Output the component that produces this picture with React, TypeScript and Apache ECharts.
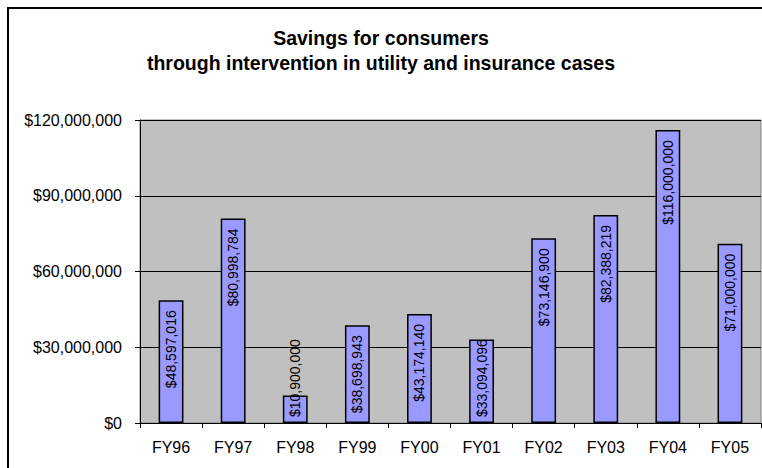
import React, { useEffect, useRef } from "react";
import * as echarts from "echarts";

const categories = ["FY96", "FY97", "FY98", "FY99", "FY00", "FY01", "FY02", "FY03", "FY04", "FY05"];
const savings = [48597016, 80998784, 10900000, 38698943, 43174140, 33094096, 73146900, 82388219, 116000000, 71000000];
const bottomLabelCats = ["FY98", "FY01"];
const titleLines = ["Savings for consumers", "through intervention in utility and insurance cases"];

const money = (v: number) => "$" + Math.round(v).toLocaleString("en-US");
const FONT = "'Liberation Sans', Arial, sans-serif";

export default function App() {
  const ref = useRef<HTMLDivElement>(null);
  useEffect(() => {
    if (!ref.current) return;
    const chart = echarts.init(ref.current, null, { renderer: "svg" });
    const data = savings.map((v, i) => {
      const bottom = bottomLabelCats.includes(categories[i]);
      return {
        value: v,
        label: bottom
          ? { position: "insideBottom", distance: 6, align: "left" }
          : { position: "insideTop", distance: 10, align: "right" },
      };
    });
    chart.setOption({
      animation: false,
      backgroundColor: "#ffffff",
      title: {
        text: titleLines.join("\n"),
        left: "center",
        top: 20,
        textStyle: { fontFamily: FONT, fontSize: 19.5, fontWeight: "bold", color: "#000", lineHeight: 25 },
      },
      graphic: [
        {
          type: "rect",
          shape: { x: 8, y: 8, width: 800, height: 500 },
          style: { fill: "none", stroke: "#000", lineWidth: 2 },
          silent: true,
        },
      ],
      grid: {
        left: 140,
        top: 120,
        right: 1,
        bottom: 45,
        show: true,
        backgroundColor: "#C0C0C0",
        borderColor: "#808080",
        borderWidth: 1,
      },
      xAxis: {
        type: "category",
        data: categories,
        axisLine: { lineStyle: { color: "#000", width: 1 } },
        axisTick: { show: true, length: 5, alignWithLabel: false, lineStyle: { color: "#000" } },
        axisLabel: { fontFamily: FONT, fontSize: 16, color: "#000", margin: 16, interval: 0 },
      },
      yAxis: {
        type: "value",
        min: 0,
        max: 120000000,
        interval: 30000000,
        axisLine: { show: true, lineStyle: { color: "#000", width: 1 } },
        axisTick: { show: true, length: 5, lineStyle: { color: "#000" } },
        axisLabel: { fontFamily: FONT, fontSize: 16, color: "#000", margin: 18, formatter: (v: number) => money(v) },
        splitLine: { show: true, lineStyle: { color: "#000", width: 1 } },
      },
      series: [
        {
          type: "bar",
          data,
          barWidth: "40%",
          itemStyle: { color: "#9999FF", borderColor: "#000", borderWidth: 1.5 },
          label: {
            show: true,
            rotate: 90,
            verticalAlign: "middle",
            fontFamily: FONT,
            fontSize: 14,
            color: "#000",
            formatter: (p: any) => money(p.value),
          },
        },
      ],
    });
    return () => chart.dispose();
  }, []);
  return <div ref={ref} style={{ position: "fixed", left: 0, top: 0, width: 762, height: 468 }} />;
}
